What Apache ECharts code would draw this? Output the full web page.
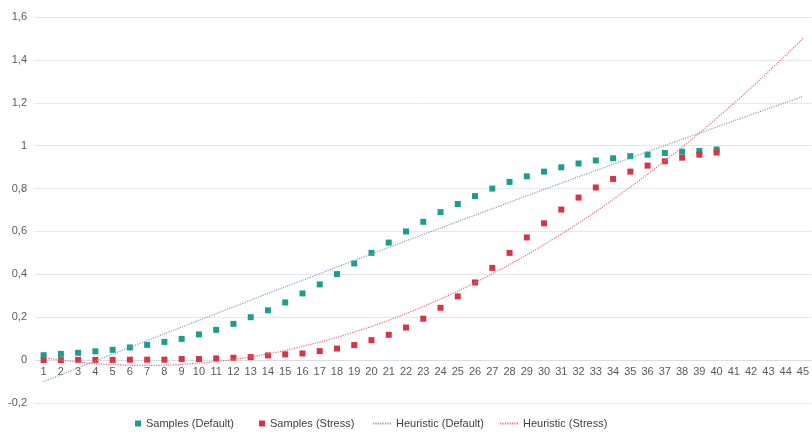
<!DOCTYPE html>
<html>
<head>
<meta charset="utf-8">
<title>Samples vs Heuristic</title>
<script src="https://cdn.jsdelivr.net/npm/echarts@6/dist/echarts.min.js"></script>
<style>
  html, body { margin: 0; padding: 0; background: #ffffff; }
  #chart { width: 812px; height: 433px; }
</style>
</head>
<body>
<div id="chart"></div>
<script>
// Category labels along the x axis
const xLabels = ['1','2','3','4','5','6','7','8','9','10','11','12','13','14','15',
  '16','17','18','19','20','21','22','23','24','25','26','27','28','29','30',
  '31','32','33','34','35','36','37','38','39','40','41','42','43','44','45'];

// Measured samples, default configuration (steps 1..40)
const samplesDefault = [0.023, 0.029, 0.034, 0.041, 0.048, 0.059, 0.071, 0.085, 0.099, 0.120,
  0.141, 0.169, 0.200, 0.232, 0.269, 0.311, 0.353, 0.401, 0.451, 0.500,
  0.548, 0.600, 0.645, 0.690, 0.728, 0.765, 0.800, 0.831, 0.857, 0.879,
  0.899, 0.917, 0.931, 0.941, 0.951, 0.958, 0.966, 0.972, 0.975, 0.982];

// Measured samples, stress configuration (steps 1..40)
const samplesStress = [0.000, 0.000, 0.001, 0.001, 0.001, 0.002, 0.002, 0.002, 0.005, 0.005,
  0.008, 0.011, 0.014, 0.022, 0.027, 0.031, 0.042, 0.054, 0.070, 0.093,
  0.118, 0.152, 0.193, 0.244, 0.297, 0.362, 0.430, 0.500, 0.572, 0.638,
  0.702, 0.758, 0.805, 0.845, 0.879, 0.907, 0.927, 0.944, 0.958, 0.968];

// Heuristic curve, default configuration (steps 1..45)
const heuristicDefault = [-0.100, -0.068, -0.036, -0.004, 0.028, 0.060, 0.091, 0.123, 0.154, 0.186,
  0.217, 0.248, 0.280, 0.311, 0.342, 0.372, 0.403, 0.434, 0.464, 0.495,
  0.525, 0.556, 0.586, 0.616, 0.646, 0.676, 0.706, 0.736, 0.766, 0.796,
  0.825, 0.855, 0.884, 0.913, 0.942, 0.972, 1.001, 1.030, 1.058, 1.087,
  1.116, 1.144, 1.173, 1.201, 1.229];

// Heuristic curve, stress configuration (steps 1..45)
const heuristicStress = [0.011, 0.000, -0.009, -0.017, -0.021, -0.024, -0.025, -0.024, -0.020, -0.014,
  -0.007, 0.003, 0.015, 0.029, 0.045, 0.064, 0.084, 0.106, 0.131, 0.157,
  0.186, 0.217, 0.250, 0.285, 0.322, 0.361, 0.402, 0.446, 0.491, 0.539,
  0.588, 0.640, 0.693, 0.749, 0.807, 0.867, 0.929, 0.993, 1.059, 1.128,
  1.198, 1.270, 1.345, 1.421, 1.500];

const seriesNames = ['Samples (Default)', 'Samples (Stress)', 'Heuristic (Default)', 'Heuristic (Stress)'];

// Value range of the y axis
const yMin = -0.2;
const yMax = 1.6;
const yStep = 0.2;

const FONT = "'Liberation Sans', Arial, sans-serif";
const TEAL = '#1b9e8e';
const RED = '#d63447';
const BLUE_LINE = '#8a9ec0';
const RED_LINE = '#e5707f';

const CHART_H = 433;
const GRID_TOP = 17;
const GRID_BOTTOM = 30;

// Keep the category axis (line and labels) on the zero value
const plotH = CHART_H - GRID_TOP - GRID_BOTTOM;
const zeroOffset = -plotH * (0 - yMin) / (yMax - yMin);

const chart = echarts.init(document.getElementById('chart'), null, { renderer: 'canvas' });

chart.setOption({
  animation: false,
  backgroundColor: '#ffffff',
  textStyle: { fontFamily: FONT },
  grid: { left: 35, right: 0, top: GRID_TOP, bottom: GRID_BOTTOM, containLabel: false },
  legend: [
    {
      data: [seriesNames[0], seriesNames[1]],
      left: 130,
      top: 413,
      icon: 'rect',
      itemWidth: 6,
      itemHeight: 6,
      itemGap: 25,
      textStyle: { fontFamily: FONT, fontSize: 11, color: '#404040' }
    },
    {
      data: [seriesNames[2], seriesNames[3]],
      left: 367,
      top: 413,
      itemWidth: 18,
      itemHeight: 6,
      itemGap: 15,
      itemStyle: { opacity: 0 },
      textStyle: { fontFamily: FONT, fontSize: 11, color: '#404040' }
    }
  ],
  xAxis: {
    type: 'category',
    data: xLabels,
    boundaryGap: true,
    position: 'bottom',
    offset: zeroOffset,
    axisTick: { show: false },
    axisLine: { onZero: false, lineStyle: { color: '#d9dde4', width: 1 } },
    axisLabel: { interval: 0, margin: 6, fontSize: 11, color: '#595959', fontFamily: FONT },
    splitLine: { show: false }
  },
  yAxis: {
    type: 'value',
    min: yMin,
    max: yMax,
    interval: yStep,
    axisLine: { show: false },
    axisTick: { show: false },
    axisLabel: {
      margin: 8,
      fontSize: 11,
      color: '#595959',
      fontFamily: FONT,
      formatter: (v) => String(+v.toFixed(1)).replace('.', ',')
    },
    splitLine: { lineStyle: { color: '#e4e7ed', width: 1 } }
  },
  series: [
    {
      name: seriesNames[0],
      type: 'scatter',
      data: samplesDefault,
      symbol: 'rect',
      symbolSize: 6,
      itemStyle: { color: TEAL, opacity: 1 },
      z: 3
    },
    {
      name: seriesNames[1],
      type: 'scatter',
      data: samplesStress,
      symbol: 'rect',
      symbolSize: 6,
      itemStyle: { color: RED, opacity: 1 },
      z: 3
    },
    {
      name: seriesNames[2],
      type: 'line',
      data: heuristicDefault,
      smooth: 0.3,
      symbol: 'none',
      showSymbol: false,
      lineStyle: { color: BLUE_LINE, width: 1.2, type: [1.2, 1.2] },
      itemStyle: { color: BLUE_LINE },
      z: 4
    },
    {
      name: seriesNames[3],
      type: 'line',
      data: heuristicStress,
      smooth: 0.3,
      symbol: 'none',
      showSymbol: false,
      lineStyle: { color: RED_LINE, width: 1.2, type: [1.2, 1.2] },
      itemStyle: { color: RED_LINE },
      z: 4
    }
  ]
});
</script>
</body>
</html>
